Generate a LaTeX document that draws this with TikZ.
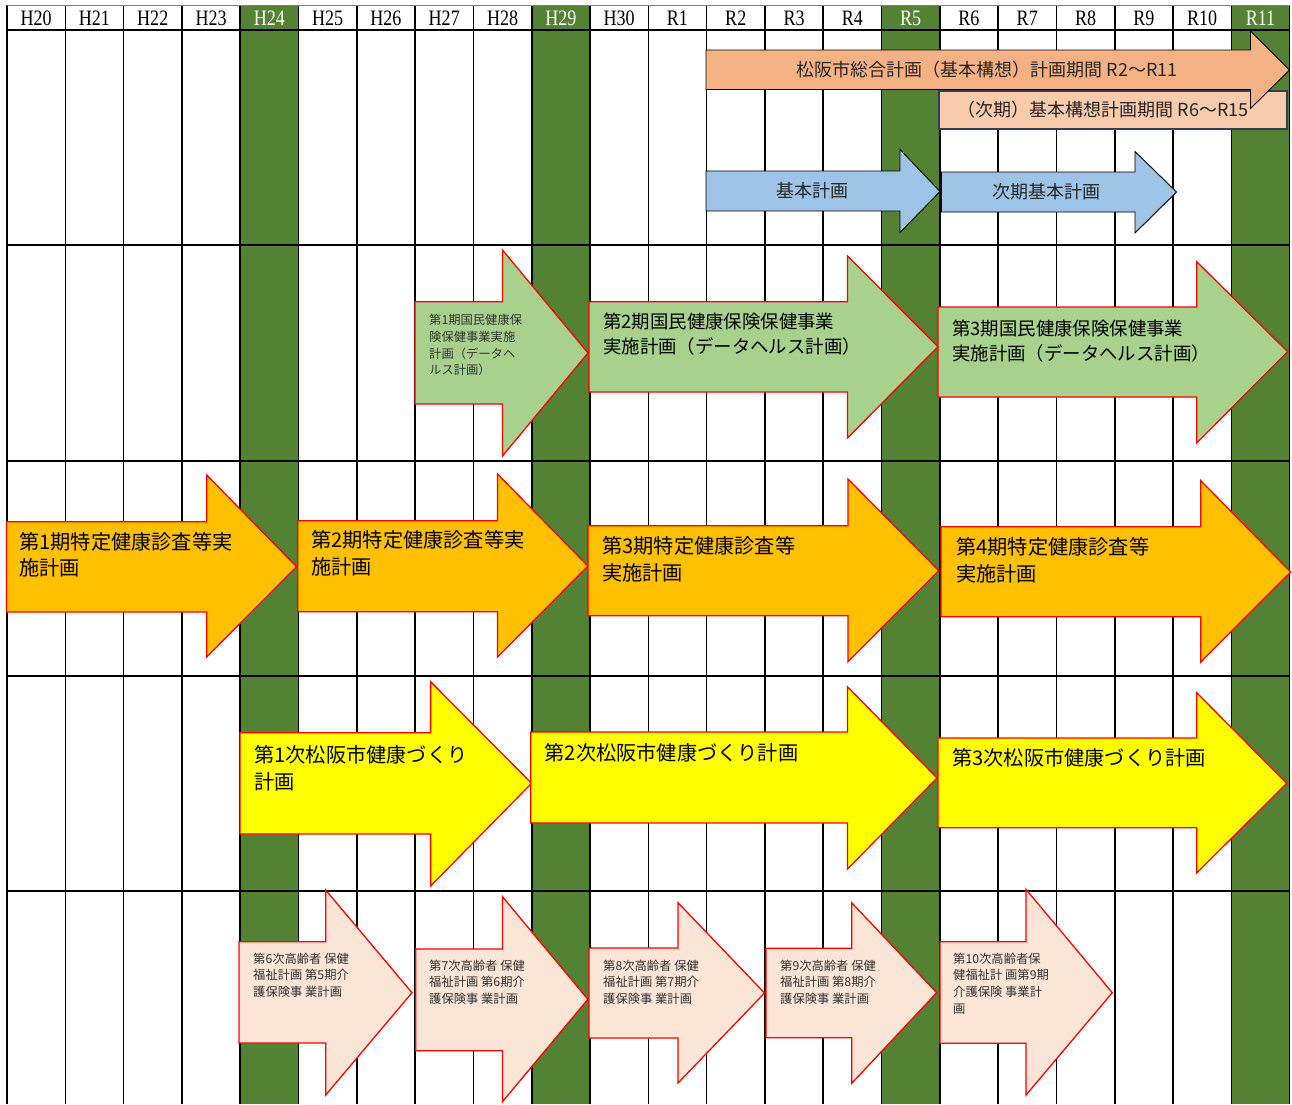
\documentclass[tikz,border=0pt]{standalone}
\usepackage{fontspec}
\setmainfont{Noto Sans CJK JP}
\newfontfamily\yearfont[FakeStretch=0.82]{Liberation Serif}
\usepackage{xcolor}
\tikzset{>=latex}

\definecolor{yeargreen}{HTML}{548235}
\definecolor{planorange}{HTML}{F4B183}
\definecolor{planpeach}{HTML}{F8CBAD}
\definecolor{planblue}{HTML}{9DC3E6}
\definecolor{plangreen}{HTML}{A9D18E}
\definecolor{plangold}{HTML}{FFC000}
\definecolor{planyellow}{HTML}{FFFF00}
\definecolor{planpink}{HTML}{FBE5D6}
\definecolor{boxedge}{HTML}{2F3F55}

% block arrow: style, body left, body top, body bottom, head base, head top, head bottom, tip x, tip y
\newcommand{\planarrow}[9]{%
  \draw[#1] (#2,#3) -- (#5,#3) -- (#5,#6) -- (#8,#9) -- (#5,#7) -- (#5,#4) -- (#2,#4) -- cycle;}

\begin{document}
\begin{tikzpicture}[
            x=1pt, y=-1pt,
            gridline/.style={line width=1.6pt, black},
            yearlbl/.style={font=\yearfont\fontsize{22}{22}\selectfont, inner sep=0pt},
            redarrow/.style={draw=red, line width=1.3pt},
            blackarrow/.style={draw=black, line width=0.9pt},
            toptext/.style={inner sep=0pt, text=black!85, font=\fontsize{18}{20}\selectfont},
            plantext/.style={anchor=north west, inner sep=0pt, align=left},
            tinytext/.style={plantext, text=black!80, font=\fontsize{12.3}{16.6}\selectfont},
            midtext/.style={plantext, font=\fontsize{18.4}{25}\selectfont},
            bigtext/.style={plantext, font=\fontsize{20.2}{26.5}\selectfont}
        ]
        \useasboundingbox (0,0) rectangle (1292,1104);
        \fill[white] (0,0) rectangle (1292,1104);
        % green years
        \foreach \i in {4,9,15,21}
            \fill[yeargreen] ({7+58.3*\i},5) rectangle ({7+58.3*(\i+1)},1104);
        % grid
        \foreach \i in {0,...,22}
            \draw[gridline] ({7+58.3*\i},5) -- ({7+58.3*\i},1104);
        \foreach \y in {30,245,461,676,891}
            \draw[gridline] (7,\y) -- (1289.6,\y);
        \draw[gray, line width=1pt] (7,5) -- (1289.6,5);
        % year labels
        \foreach \lbl/\tc [count=\i from 0] in {H20/black,H21/black,H22/black,H23/black,H24/white,H25/black,H26/black,H27/black,H28/black,H29/white,H30/black,R1/black,R2/black,R3/black,R4/black,R5/white,R6/black,R7/black,R8/black,R9/black,R10/black,R11/white}
            \node[yearlbl, text=\tc] (\lbl) at ({7+58.3*(\i+0.5)},18) {\lbl};

        % general plan
        \draw[fill=planpeach, draw=boxedge, line width=1.2pt] (939,91) rectangle (1287,129);
        \node[toptext] (nextvision) at (1103,110) {（次期）基本構想計画期間 R6～R15};
        \planarrow{blackarrow, fill=planorange}{706}{50}{89.5}{1250.5}{31}{108.5}{1289.5}{70}
        \node[toptext] (vision) at (987,70) {松阪市総合計画（基本構想）計画期間 R2～R11};
        \planarrow{blackarrow, fill=planblue}{706}{171}{211}{900}{149.5}{232.5}{940}{191.5}
        \node[toptext] (basic) at (812,191) {基本計画};
        \planarrow{blackarrow, fill=planblue}{941.5}{172}{212}{1135}{151.5}{233}{1176.5}{192}
        \node[toptext] (nextbasic) at (1046,192) {次期基本計画};

        % data health
        \planarrow{redarrow, fill=plangreen}{415}{301.7}{404}{502.5}{250}{456}{588}{353}
        \node[tinytext] (health1) at (429,314.2) {第1期国民健康保\\険保健事業実施\\計画（データヘ\\ルス計画）};
        \planarrow{redarrow, fill=plangreen}{589}{301.7}{392}{847.5}{256}{438}{938}{346.7}
        \node[midtext] (health2) at (603,313.1) {第2期国民健康保険保健事業\\実施計画（データヘルス計画）};
        \planarrow{redarrow, fill=plangreen}{938}{307}{397}{1196.7}{261.7}{443}{1287.7}{351.7}
        \node[midtext] (health3) at (952,319.4) {第3期国民健康保険保健事業\\実施計画（データヘルス計画）};

        % checkups
        \planarrow{redarrow, fill=plangold}{6.5}{521.7}{612}{206.7}{475}{657}{296.6}{566.7}
        \node[bigtext] (check1) at (19,532.2) {第1期特定健康診査等実\\施計画};
        \planarrow{redarrow, fill=plangold}{297.7}{520.7}{611.7}{497.5}{474}{657}{588}{566}
        \node[bigtext] (check2) at (311,530.5) {第2期特定健康診査等実\\施計画};
        \planarrow{redarrow, fill=plangold}{588}{525.7}{615.7}{848}{479}{661.7}{938.8}{570.7}
        \node[bigtext] (check3) at (602,536.5) {第3期特定健康診査等\\実施計画};
        \planarrow{redarrow, fill=plangold}{941}{526.7}{616.7}{1200.8}{480.7}{662}{1290.7}{572}
        \node[bigtext] (check4) at (956,537.5) {第4期特定健康診査等\\実施計画};

        % health promotion
        \planarrow{redarrow, fill=planyellow}{240}{732.7}{834}{430.6}{681.7}{886}{531.6}{783.3}
        \node[bigtext] (city1) at (254,745.6) {第1次松阪市健康づくり\\計画};
        \planarrow{redarrow, fill=planyellow}{530.7}{732}{823}{847.5}{686.7}{869}{937}{778}
        \node[bigtext] (city2) at (544.5,743.3) {第2次松阪市健康づくり計画};
        \planarrow{redarrow, fill=planyellow}{938}{738}{827.7}{1196.7}{692.7}{873}{1286.7}{783.3}
        \node[bigtext] (city3) at (952,748.6) {第3次松阪市健康づくり計画};

        % elderly care
        \planarrow{redarrow, fill=planpink}{239}{941.7}{1043}{325.7}{890}{1095}{412}{992.7}
        \node[tinytext] (care6) at (253,952.4) {第6次高齢者 保健\\福祉計画 第5期介\\護保険事 業計画};
        \planarrow{redarrow, fill=planpink}{415.7}{949}{1050.7}{502.5}{896.7}{1101.7}{587.9}{999.3}
        \node[tinytext] (care7) at (429,959.4) {第7次高齢者 保健\\福祉計画 第6期介\\護保険事 業計画};
        \planarrow{redarrow, fill=planpink}{589}{948}{1038}{678}{902.7}{1083}{764.6}{993}
        \node[tinytext] (care8) at (603,959.4) {第8次高齢者 保健\\福祉計画 第7期介\\護保険事 業計画};
        \planarrow{redarrow, fill=planpink}{766}{948.3}{1037.7}{851.7}{902.7}{1083.3}{936.7}{992.7}
        \node[tinytext] (care9) at (780,959.4) {第9次高齢者 保健\\福祉計画 第8期介\\護保険事 業計画};
        \planarrow{redarrow, fill=planpink}{940}{941.7}{1043.3}{1026}{889.3}{1095}{1112.3}{992.7}
        \node[tinytext] (care10) at (953,952.7) {第10次高齢者保\\健福祉計 画第9期\\介護保険 事業計\\画};
\end{tikzpicture}
\end{document}
